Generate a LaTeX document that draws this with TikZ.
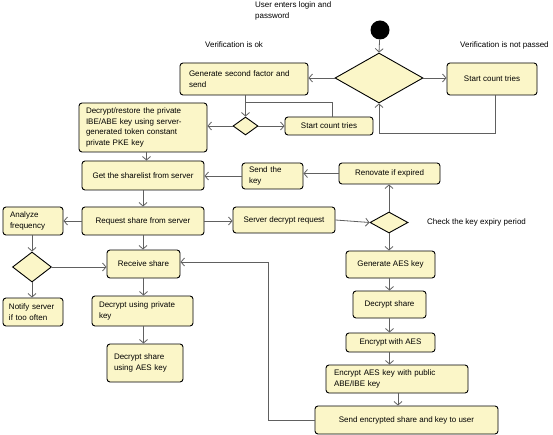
\documentclass[tikz,border=0pt]{standalone}
\usepackage{fontspec}
\setmainfont{Liberation Sans}
\usetikzlibrary{shapes.geometric,arrows.meta,calc}
\definecolor{boxfill}{HTML}{FBF6C8}
\definecolor{linegray}{HTML}{606060}
\tikzset{
  box/.style={draw=black, line width=0.9pt, fill=boxfill, rounded corners=3pt, inner sep=0pt, font=\fontsize{8}{10.5}\selectfont},
  lbox/.style={box, align=left},
  dia/.style={draw=black, line width=0.9pt, fill=boxfill, diamond, inner sep=0pt},
  conn/.style={draw=linegray, line width=0.8pt},
  arr/.style={conn, -{Straight Barb[length=3.5pt,width=8pt]}},
  lbl/.style={font=\fontsize{8}{10.5}\selectfont, inner sep=0pt, align=left, anchor=west}
}
\begin{document}
\begin{tikzpicture}[x=1pt,y=-1pt]
\useasboundingbox (0,0) rectangle (553,435);
\fill[white] (0,0) rectangle (553,435);

% labels
\node[lbl] (tuser) at (255,11) {User enters login and\\password};
\node[lbl] (tok) at (205,45) {Verification is ok};
\node[lbl] (tnot) at (460,45) {Verification is not passed};
\node[lbl] (tchk) at (427,222) {Check the key expiry period};

% start
\node[circle, fill=black, minimum size=19pt, inner sep=0pt] (start) at (380,30) {};

% diamonds
\node[dia, minimum width=88pt, minimum height=50pt] (bigd) at (379,78) {};
\node[dia, minimum width=25pt, minimum height=18pt] (smd) at (245.5,126) {};
\node[dia, minimum width=38pt, minimum height=21pt] (chkd) at (389,222.5) {};
\node[dia, minimum width=39pt, minimum height=30pt] (leftd) at (32,267) {};

% boxes
\node[lbox, minimum width=128pt, minimum height=32pt, text width=110pt] (gen2f) at (244,79) {Generate second factor and\\send};
\node[box, minimum width=90pt, minimum height=32pt] (sct1) at (492,79) {Start count tries};
\node[box, minimum width=88pt, minimum height=18pt] (sct2) at (329,126) {Start count tries};
\node[lbox, minimum width=128pt, minimum height=49pt, text width=114pt] (decr) at (143,127.5) {Decrypt/restore the private\\IBE/ABE key using server-\\generated token constant\\private PKE key};
\node[box, minimum width=122pt, minimum height=29pt] (share) at (143,175.5) {Get the sharelist from server};
\node[lbox, minimum width=61pt, minimum height=26pt, text width=47pt] (sendkey) at (272.5,176) {Send the\\key};
\node[box, minimum width=101pt, minimum height=21pt] (renov) at (389.5,173.5) {Renovate if expired};
\node[box, minimum width=122pt, minimum height=28pt] (req) at (143,221) {Request share from server};
\node[lbox, minimum width=60pt, minimum height=28pt, text width=46pt] (analyze) at (33,221) {Analyze\\frequency};
\node[box, minimum width=102pt, minimum height=26pt] (srvdec) at (284,220) {Server decrypt request};
\node[lbox, minimum width=60pt, minimum height=28pt, text width=48pt] (notify) at (33,312) {Notify server\\if too often};
\node[box, minimum width=73pt, minimum height=28pt] (recv) at (143.5,264) {Receive share};
\node[lbox, minimum width=101pt, minimum height=30pt, text width=87pt] (decpriv) at (142.5,311) {Decrypt using private\\key};
\node[lbox, minimum width=76pt, minimum height=38pt, text width=62pt] (decaes) at (145,363) {Decrypt share\\using AES key};
\node[box, minimum width=89pt, minimum height=27pt] (genaes) at (390.5,264.5) {Generate AES key};
\node[box, minimum width=73pt, minimum height=27pt] (decshare) at (389.5,304.5) {Decrypt share};
\node[box, minimum width=89pt, minimum height=19pt] (encaes) at (390.5,342.5) {Encrypt with AES};
\node[lbox, minimum width=142pt, minimum height=28pt, text width=126pt] (enckey) at (397,379) {Encrypt AES key with public\\ABE/IBE key};
\node[box, minimum width=183pt, minimum height=28pt] (sendenc) at (406.5,420) {Send encrypted share and key to user};

% helper coordinates
\coordinate (c1) at (379,133);
\coordinate (c2) at (245.5,102);
\coordinate (c3) at (268,262);

% connectors
\draw[arr] (start) -- (bigd.north);
\draw[arr] (bigd.west) -- (bigd.west -| gen2f.east);
\draw[arr] (bigd.east) -- (bigd.east -| sct1.west);
\draw[arr] ([xshift=3pt]sct1.south) |- (c1) -- (bigd.south);
\draw[arr] (smd.north |- gen2f.south) -- (smd.north);
\draw[conn] (c2) -| ([xshift=3pt]sct2.north);
\draw[arr] (smd.west) -- (smd.west -| decr.east);
\draw[arr] (smd.east) -- (smd.east -| sct2.west);
\draw[arr] ([xshift=3.5pt]decr.south) -- ([xshift=3.5pt]decr.south |- share.north);
\draw[arr] (sendkey.west) -- (sendkey.west -| share.east);
\draw[arr] (renov.west) -- (renov.west -| sendkey.east);
\draw[arr] (share.south) -- (req.north);
\draw[arr] (req.west) -- (req.west -| analyze.east);
\draw[arr] (req.east) -- (req.east -| srvdec.west);
\draw[arr] (srvdec.east) -- (chkd.west);
\draw[arr] (chkd.north) -- (chkd.north |- renov.south);
\draw[arr] (chkd.south) -- (chkd.south |- genaes.north);
\draw[arr] (decshare.north |- genaes.south) -- (decshare.north);
\draw[arr] (decshare.south) -- (decshare.south |- encaes.north);
\draw[arr] (decshare.south |- encaes.south) -- (decshare.south |- enckey.north);
\draw[arr] ([xshift=1pt]enckey.south) -- ([xshift=1pt]enckey.south |- sendenc.north);
\draw[arr] (sendenc.west) -| (c3) -- (c3 -| recv.east);
\draw[arr] (req.south) -- (req.south |- recv.north);
\draw[arr] (leftd.north |- analyze.south) -- (leftd.north);
\draw[arr] (leftd.east) -- (leftd.east -| recv.west);
\draw[arr] (leftd.south) -- (leftd.south |- notify.north);
\draw[arr] (recv.south) -- (recv.south |- decpriv.north);
\draw[arr] (recv.south |- decpriv.south) -- (recv.south |- decaes.north);
\end{tikzpicture}
\end{document}
